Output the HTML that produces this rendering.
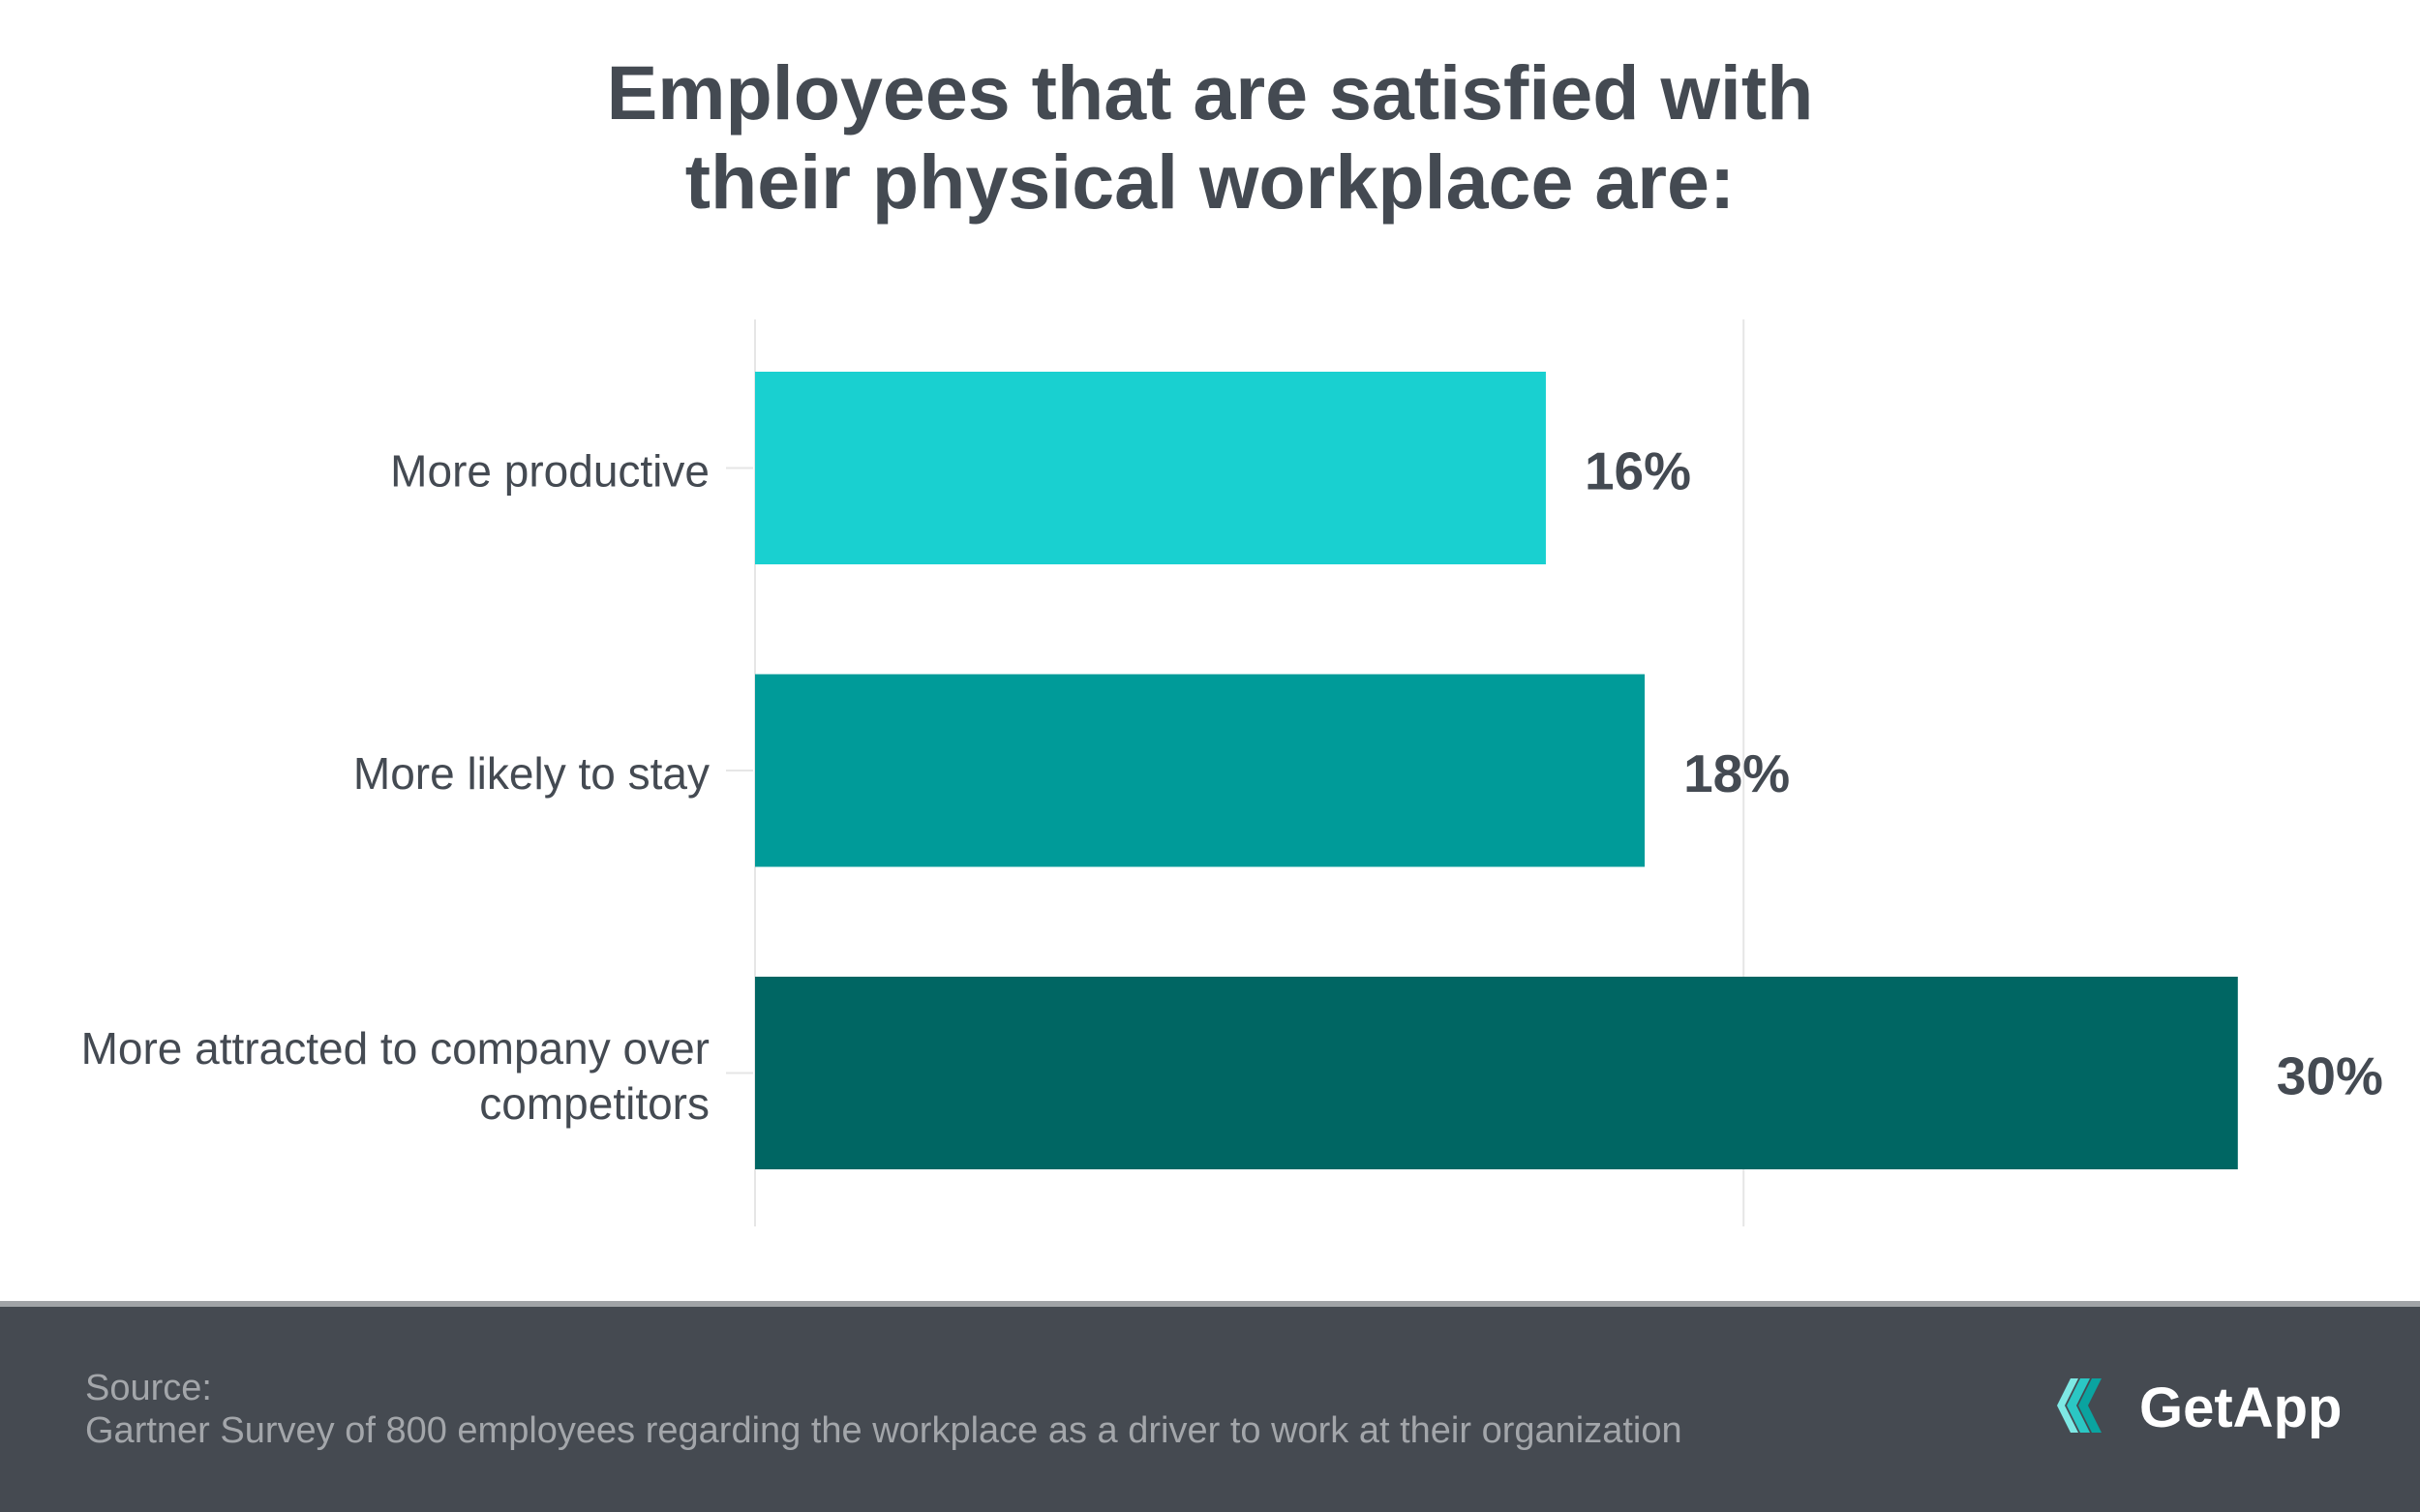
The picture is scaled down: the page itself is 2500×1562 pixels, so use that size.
<!DOCTYPE html>
<html><head><meta charset="utf-8"><style>
body{margin:0;width:2500px;height:1562px;background:#fff;position:relative;overflow:hidden;font-family:"Liberation Sans",sans-serif}
#title{position:absolute;left:0;width:2500px;top:50px;text-align:center;font-weight:bold;font-size:79px;line-height:92px;color:#444a52}
#footer{position:absolute;left:0;top:1344px;width:2500px;height:218px;background:#454a51;border-top:6px solid #a0a3a6;box-sizing:border-box}
.src{position:absolute;left:88px;font-size:38px;color:#a3a6aa}
</style></head><body>
<div id="title">Employees that are satisfied with<br>their physical workplace are:</div>
<svg id="chart" width="2500" height="1340" style="position:absolute;left:0;top:0"></svg>
<div id="footer">
<div class="src" style="top:63px">Source:</div>
<div class="src" style="top:107px">Gartner Survey of 800 employees regarding the workplace as a driver to work at their organization</div>
<svg style="position:absolute;left:2125px;top:62px" width="300" height="80">
<polygon points="0,40 14,12 22,12 8,40 22,68 14,68" fill="#7ee8e4"/>
<polygon points="10,40 24,12 34,12 20,40 34,68 24,68" fill="#2bc7c4"/>
<polygon points="22,40 36,12 46,12 32,40 46,68 36,68" fill="#0aa3a0"/>
<text x="85" y="62" font-family="Liberation Sans" font-weight="bold" font-size="58" fill="#fff">GetApp</text>
</svg>
</div>
<script>
const categories=["More productive","More likely to stay","More attracted to company over competitors"];
const values=[16,18,30];
const valueLabels=["16%","18%","30%"];
const colors=["#19d0d0","#009b99","#006663"];
const svg=document.getElementById('chart');
const NS='http://www.w3.org/2000/svg';
const x0=780, pxPer=51.06;
const x=v=>x0+v*pxPer;
const bandStart=384, bandStep=312.5, bandH=199;
function mk(t,a){const e=document.createElementNS(NS,t);for(const k in a)e.setAttribute(k,a[k]);svg.appendChild(e);return e;}
[0,20].forEach(g=>{const l=mk('line',{x1:x(g),x2:x(g),y1:330,y2:1267,stroke:'#e6e6e6','stroke-width':2});

});
categories.forEach((c,i)=>{
 const top=bandStart+i*bandStep, cy=top+bandH/2;
 const tk=mk('line',{x1:750,x2:778,y1:cy,y2:cy,stroke:'#e6e6e6','stroke-width':2});
 
 
 const r=mk('rect',{x:x0,y:top,width:x(values[i])-x0,height:bandH,fill:colors[i]});
 
 
 const v=mk('text',{x:x(values[i])+40,y:cy+22,'font-size':55,'font-weight':'bold',fill:'#444a52','font-family':'Liberation Sans'});
 v.textContent=valueLabels[i];
 
 
 const words=c.length>30?["More attracted to company over","competitors"]:[c];
 const t=mk('text',{x:733,'text-anchor':'end','font-size':46,fill:'#444a52','font-family':'Liberation Sans'});
 
 
 words.forEach((w,j)=>{const s=document.createElementNS(NS,'tspan');s.setAttribute('x',733);s.setAttribute('y',cy+19+(j-(words.length-1)/2)*57);s.textContent=w;t.appendChild(s);});
});
</script>
</body></html>
